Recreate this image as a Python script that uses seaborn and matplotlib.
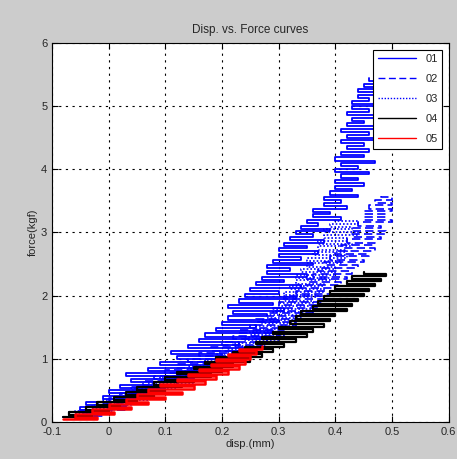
import matplotlib
matplotlib.use("Agg")
import matplotlib.pyplot as plt
import seaborn as sns

# zigzag disp/force readings (disp in mm, force in kgf)
disp_01 = [-0.08, -0.02, -0.07, 0.00, -0.05, 0.03, -0.04, 0.05, -0.01, 0.07,
           0.00, 0.10, 0.02, 0.12, 0.04, 0.15, 0.03, 0.16, 0.07, 0.19,
           0.09, 0.22, 0.12, 0.20, 0.11, 0.25, 0.14, 0.23, 0.16, 0.27,
           0.17, 0.29, 0.19, 0.26, 0.20, 0.30, 0.21, 0.28, 0.22, 0.31,
           0.21, 0.29, 0.23, 0.33, 0.24, 0.30, 0.25, 0.34, 0.26, 0.31,
           0.27, 0.35, 0.28, 0.32, 0.28, 0.36, 0.29, 0.34, 0.30, 0.37,
           0.30, 0.35, 0.31, 0.38, 0.32, 0.36, 0.33, 0.39, 0.34, 0.37,
           0.35, 0.41, 0.36, 0.39, 0.36, 0.42, 0.38, 0.41, 0.38, 0.44,
           0.39, 0.43, 0.40, 0.45, 0.40, 0.44, 0.41, 0.46, 0.40, 0.44,
           0.41, 0.47, 0.40, 0.45, 0.41, 0.46, 0.42, 0.45, 0.41, 0.47,
           0.42, 0.46, 0.41, 0.47, 0.42, 0.45, 0.43, 0.47, 0.42, 0.46,
           0.43, 0.48, 0.43, 0.46, 0.44, 0.48, 0.44, 0.47, 0.45, 0.48, 0.46]
force_01 = [0.08, 0.11, 0.15, 0.19, 0.23, 0.27, 0.32, 0.36, 0.41, 0.45,
            0.50, 0.54, 0.59, 0.63, 0.68, 0.72, 0.77, 0.81, 0.86, 0.90,
            0.95, 0.99, 1.04, 1.08, 1.13, 1.17, 1.22, 1.26, 1.31, 1.35,
            1.40, 1.44, 1.49, 1.53, 1.58, 1.62, 1.67, 1.71, 1.76, 1.80,
            1.85, 1.89, 1.94, 1.98, 2.03, 2.07, 2.12, 2.16, 2.21, 2.25,
            2.30, 2.34, 2.39, 2.43, 2.48, 2.52, 2.57, 2.61, 2.66, 2.70,
            2.75, 2.79, 2.84, 2.88, 2.93, 2.97, 3.02, 3.06, 3.11, 3.15,
            3.20, 3.24, 3.29, 3.33, 3.38, 3.42, 3.47, 3.51, 3.56, 3.60,
            3.65, 3.69, 3.74, 3.78, 3.83, 3.87, 3.92, 3.96, 4.01, 4.05,
            4.10, 4.14, 4.19, 4.23, 4.28, 4.32, 4.37, 4.41, 4.46, 4.50,
            4.55, 4.59, 4.64, 4.68, 4.73, 4.77, 4.82, 4.86, 4.91, 4.95,
            5.00, 5.04, 5.09, 5.13, 5.18, 5.22, 5.27, 5.31, 5.36, 5.40, 5.44]

disp_02 = [-0.07, -0.01, -0.05, 0.03, -0.02, 0.05, 0.00, 0.08, 0.02, 0.10,
           0.04, 0.12, 0.06, 0.15, 0.08, 0.17, 0.10, 0.19, 0.12, 0.21,
           0.14, 0.23, 0.16, 0.25, 0.18, 0.27, 0.20, 0.28, 0.22, 0.30,
           0.23, 0.31, 0.25, 0.33, 0.26, 0.34, 0.28, 0.36, 0.29, 0.37,
           0.30, 0.38, 0.31, 0.39, 0.33, 0.40, 0.34, 0.41, 0.35, 0.42,
           0.36, 0.43, 0.37, 0.44, 0.38, 0.45, 0.39, 0.46, 0.40, 0.47,
           0.41, 0.47, 0.42, 0.48, 0.43, 0.49, 0.43, 0.48, 0.44, 0.50,
           0.45, 0.49, 0.45, 0.50, 0.46, 0.50, 0.47, 0.50, 0.48]
force_02 = [0.10, 0.14, 0.19, 0.23, 0.28, 0.32, 0.37, 0.41, 0.46, 0.50,
            0.55, 0.59, 0.64, 0.68, 0.73, 0.77, 0.82, 0.86, 0.91, 0.95,
            1.00, 1.04, 1.09, 1.13, 1.18, 1.22, 1.27, 1.31, 1.36, 1.40,
            1.45, 1.49, 1.54, 1.58, 1.63, 1.67, 1.72, 1.76, 1.81, 1.85,
            1.90, 1.94, 1.99, 2.03, 2.08, 2.12, 2.17, 2.21, 2.26, 2.30,
            2.35, 2.39, 2.44, 2.48, 2.53, 2.57, 2.62, 2.66, 2.71, 2.75,
            2.80, 2.84, 2.89, 2.93, 2.98, 3.02, 3.07, 3.11, 3.16, 3.20,
            3.25, 3.29, 3.34, 3.38, 3.43, 3.47, 3.52, 3.56, 3.60]

disp_03 = [-0.07, -0.02, -0.06, 0.01, -0.03, 0.04, -0.01, 0.07, 0.02, 0.09,
           0.04, 0.12, 0.07, 0.15, 0.09, 0.17, 0.12, 0.20, 0.14, 0.22,
           0.17, 0.24, 0.19, 0.27, 0.21, 0.28, 0.22, 0.30, 0.24, 0.31,
           0.25, 0.32, 0.26, 0.33, 0.27, 0.34, 0.28, 0.35, 0.29, 0.36,
           0.30, 0.36, 0.31, 0.37, 0.31, 0.38, 0.32, 0.38, 0.33, 0.39,
           0.33, 0.40, 0.34, 0.40, 0.35, 0.41, 0.35, 0.42, 0.36, 0.42,
           0.37, 0.43, 0.37, 0.42, 0.38, 0.44, 0.38, 0.43, 0.39, 0.44, 0.40]
force_03 = [0.08, 0.12, 0.17, 0.21, 0.26, 0.30, 0.35, 0.39, 0.44, 0.48,
            0.53, 0.57, 0.62, 0.66, 0.71, 0.75, 0.80, 0.84, 0.89, 0.93,
            0.98, 1.02, 1.07, 1.11, 1.16, 1.20, 1.25, 1.29, 1.34, 1.38,
            1.43, 1.47, 1.52, 1.56, 1.61, 1.65, 1.70, 1.74, 1.79, 1.83,
            1.88, 1.92, 1.97, 2.01, 2.06, 2.10, 2.15, 2.19, 2.24, 2.28,
            2.33, 2.37, 2.42, 2.46, 2.51, 2.55, 2.60, 2.64, 2.69, 2.73,
            2.78, 2.82, 2.87, 2.91, 2.96, 3.00, 3.05, 3.09, 3.14, 3.18, 3.22]

disp_04 = [-0.08, -0.03, -0.07, 0.00, -0.04, 0.02, -0.02, 0.05, 0.01, 0.08,
           0.03, 0.10, 0.05, 0.13, 0.08, 0.15, 0.10, 0.18, 0.12, 0.20,
           0.15, 0.22, 0.17, 0.25, 0.19, 0.27, 0.22, 0.29, 0.24, 0.31,
           0.26, 0.33, 0.27, 0.35, 0.29, 0.36, 0.30, 0.38, 0.32, 0.39,
           0.33, 0.40, 0.34, 0.42, 0.36, 0.43, 0.37, 0.44, 0.38, 0.45,
           0.39, 0.46, 0.40, 0.47, 0.42, 0.48, 0.43, 0.49, 0.45]
force_04 = [0.08, 0.11, 0.15, 0.19, 0.23, 0.27, 0.31, 0.35, 0.39, 0.43,
            0.47, 0.51, 0.55, 0.59, 0.63, 0.67, 0.71, 0.75, 0.79, 0.83,
            0.87, 0.91, 0.95, 0.99, 1.03, 1.07, 1.11, 1.15, 1.19, 1.23,
            1.27, 1.31, 1.35, 1.39, 1.43, 1.47, 1.51, 1.55, 1.59, 1.63,
            1.67, 1.71, 1.75, 1.79, 1.83, 1.87, 1.91, 1.95, 1.99, 2.03,
            2.07, 2.11, 2.15, 2.19, 2.23, 2.27, 2.31, 2.35, 2.38]

disp_05 = [-0.08, -0.02, -0.06, 0.01, -0.03, 0.04, 0.00, 0.07, 0.03, 0.10,
           0.05, 0.13, 0.07, 0.15, 0.09, 0.17, 0.12, 0.19, 0.14, 0.21,
           0.16, 0.23, 0.18, 0.24, 0.19, 0.25, 0.21, 0.26, 0.23, 0.27]
force_05 = [0.05, 0.08, 0.12, 0.16, 0.20, 0.24, 0.28, 0.32, 0.36, 0.40,
            0.44, 0.48, 0.52, 0.56, 0.60, 0.64, 0.68, 0.72, 0.76, 0.80,
            0.84, 0.88, 0.92, 0.96, 1.00, 1.04, 1.08, 1.12, 1.16, 1.20]

labels = ["01", "02", "03", "04", "05"]
colors = ["#0000ff", "#0000ff", "#0000ff", "#000000", "#ff0000"]
styles = ["-", (0, (5, 2.5)), (0, (1.0, 1.2)), "-", "-"]
widths = [1.3, 1.2, 1.2, 1.6, 1.8]

x_ticks = [-0.1, 0, 0.1, 0.2, 0.3, 0.4, 0.5, 0.6]
x_labels = ["-0.1", "0", "0.1", "0.2", "0.3", "0.4", "0.5", "0.6"]
y_ticks = [0, 1, 2, 3, 4, 5, 6]

sns.set_style("white")
plt.rcParams["font.family"] = ["Liberation Sans", "DejaVu Sans"]

fig = plt.figure(figsize=(4.57, 4.59), dpi=100, facecolor="#cccccc")
ax = fig.add_axes([0.114, 0.081, 0.868, 0.825])
ax.set_facecolor("white")

series = [(disp_01, force_01), (disp_02, force_02), (disp_03, force_03),
          (disp_04, force_04), (disp_05, force_05)]
for (d, f), lab, c, ls, lw in zip(series, labels, colors, styles, widths):
    sns.lineplot(x=d, y=f, sort=False, estimator=None, color=c, linestyle=ls,
                 linewidth=lw, drawstyle="steps-post", label=lab, ax=ax)

ax.set_xlim(-0.1, 0.6)
ax.set_ylim(0, 6)
ax.set_xticks(x_ticks)
ax.set_xticklabels(x_labels)
ax.set_yticks(y_ticks)
ax.grid(True, color="black", linestyle=(0, (2, 4)), linewidth=0.8)
ax.tick_params(direction="in", length=4, labelsize=8, color="black",
               top=True, right=True, bottom=True, left=True)
for sp in ax.spines.values():
    sp.set_color("black")
    sp.set_linewidth(0.8)

ax.set_title("Disp. vs. Force curves", fontsize=8.5, pad=7)
ax.set_xlabel("disp.(mm)", fontsize=8, labelpad=2)
ax.set_ylabel("force(kgf)", fontsize=8, labelpad=2)

leg = ax.legend(loc="upper right", fontsize=8, frameon=True, fancybox=False,
                handlelength=3.5, borderaxespad=0.6, labelspacing=0.9,
                facecolor="white", edgecolor="black", framealpha=1)
leg.get_frame().set_linewidth(0.8)
for h in leg.get_lines():
    h.set_linewidth(1.0)

fig.savefig("out.png", dpi=100, facecolor=fig.get_facecolor())
